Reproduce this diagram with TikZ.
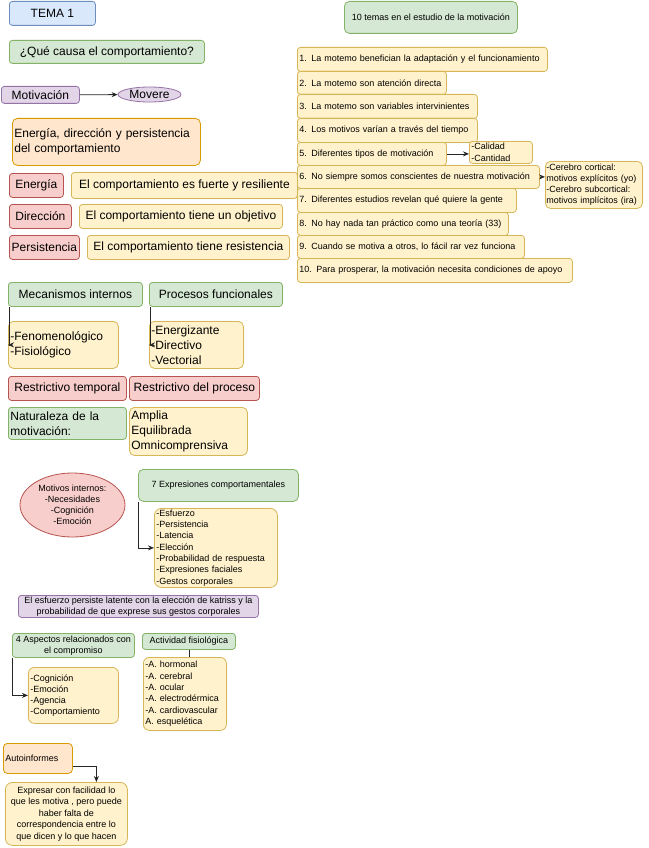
\documentclass[tikz,border=0pt]{standalone}
\usepackage{fontspec}
\setmainfont{Liberation Sans}
\usetikzlibrary{arrows.meta,shapes.geometric}
\definecolor{bF}{HTML}{DAE8FC}\definecolor{bD}{HTML}{6C8EBF}
\definecolor{gF}{HTML}{D5E8D4}\definecolor{gD}{HTML}{82B366}
\definecolor{pF}{HTML}{E1D5E7}\definecolor{pD}{HTML}{9673A6}
\definecolor{oF}{HTML}{FFE6CC}\definecolor{oD}{HTML}{D79B00}
\definecolor{rF}{HTML}{F8CECC}\definecolor{rD}{HTML}{B85450}
\definecolor{yF}{HTML}{FFF2CC}\definecolor{yD}{HTML}{D6B656}
\newcommand\ftwelve{\fontsize{12}{15}\selectfont}
\newcommand\fnine{\fontsize{9}{11.3}\selectfont}
\begin{document}
\begin{tikzpicture}[x=1pt,y=-1pt,
  base/.style={draw, rounded corners=3pt, line width=0.8pt, inner sep=0pt, anchor=north west, font=\ftwelve, align=center},
  sb/.style={base, fill=bF, draw=bD},
  sg/.style={base, fill=gF, draw=gD},
  sp/.style={base, fill=pF, draw=pD},
  so/.style={base, fill=oF, draw=oD},
  sr/.style={base, fill=rF, draw=rD},
  sy/.style={base, fill=yF, draw=yD},
  sm/.style={font=\fnine},
  wh/.style 2 args={minimum width=#1pt, minimum height=#2pt},
  lt/.style={align=left, text width=#1pt, inner xsep=2pt},
  arr/.style={draw=black!85, line width=0.8pt, -{Stealth[length=6pt,width=5pt]}},
  ln/.style={draw=black!85, line width=0.8pt}]
\useasboundingbox (0,0) rectangle (648,848);
% top left
\node[sb, wh={86}{24}] (tema) at (9,1) {TEMA 1};
\node[sg, wh={195}{23}] (que) at (9,40) {¿Qué causa el comportamiento?};
\node[sp, wh={78}{17}] (motiv) at (1,86) {Motivación};
\node[ellipse, draw=pD, fill=pF, line width=0.8pt, inner sep=0pt, wh={63}{15}, font=\ftwelve] (movere) at (149.5,94.5) {Movere};
\node[so, wh={188}{47}, lt={184}, rounded corners=5pt] (edp) at (12,118) {Energía, dirección y persistencia\\del comportamiento};
\node[sr, wh={54}{24}] (energia) at (9,173) {Energía};
\node[sy, wh={226}{26}] (energia2) at (71,172) {El comportamiento es fuerte y resiliente};
\node[sr, wh={62}{24}] (direccion) at (9,204) {Dirección};
\node[sy, wh={203}{24}] (direccion2) at (79,204) {El comportamiento tiene un objetivo};
\node[sr, wh={70}{24}] (persist) at (9,235) {Persistencia};
\node[sy, wh={202}{24}] (persist2) at (87,235) {El comportamiento tiene resistencia};
% right column
\node[sg, sm, wh={173}{32}, rounded corners=5pt] (diez) at (344,1) {10 temas en el estudio de la motivación};
\node[sy, sm, wh={250}{24}, lt={246}] (t1) at (297,47) {1. La motemo benefician la adaptación y el funcionamiento};
\node[sy, sm, wh={149}{23}, lt={145}] (t2) at (297,71) {2. La motemo son atención directa};
\node[sy, sm, wh={180}{24}, lt={176}] (t3) at (297,94) {3. La motemo son variables intervinientes};
\node[sy, sm, wh={180}{24}, lt={176}] (t4) at (297,118) {4. Los motivos varían a través del tiempo};
\node[sy, sm, wh={149}{23}, lt={145}] (t5) at (297,142) {5. Diferentes tipos de motivación};
\node[sy, sm, wh={242}{23}, lt={238}] (t6) at (297,165) {6. No siempre somos conscientes de nuestra motivación};
\node[sy, sm, wh={219}{24}, lt={215}] (t7) at (297,188) {7. Diferentes estudios revelan qué quiere la gente};
\node[sy, sm, wh={211}{23}, lt={207}] (t8) at (297,212) {8. No hay nada tan práctico como una teoría (33)};
\node[sy, sm, wh={227}{23}, lt={223}] (t9) at (297,235) {9. Cuando se motiva a otros, lo fácil rar vez funciona};
\node[sy, sm, wh={275}{24}, lt={271}] (t10) at (297,258) {10. Para prosperar, la motivación necesita condiciones de apoyo};
\node[sy, sm, wh={63}{22}, lt={59}, font=\fontsize{9}{11.5}\selectfont] (cal) at (469,141) {-Calidad\\-Cantidad};
\node[sy, sm, wh={97}{47}, align=left, text width=95pt, inner xsep=1pt, rounded corners=5pt, font=\fontsize{9}{11}\selectfont] (cereb) at (545,161) {-Cerebro cortical:\\motivos explícitos (yo)\\-Cerebro subcortical:\\motivos implícitos (ira)};
\draw[arr] (t5.east) -- (t5.east -| cal.west);
\draw[arr] (t6.east) -- (t6.east -| cereb.west);
% middle left
\node[sg, wh={134}{24}] (meca) at (8,282) {Mecanismos internos};
\node[sg, wh={133}{24}] (proc) at (149,282) {Procesos funcionales};
\node[sy, wh={110}{47}, lt={106}, rounded corners=5pt] (feno) at (8,321) {-Fenomenológico\\-Fisiológico};
\node[sy, wh={94}{47}, lt={90}, rounded corners=5pt] (energ) at (149,321) {-Energizante\\-Directivo\\-Vectorial};
\node[sr, wh={118}{24}] (rtemp) at (8,376) {Restrictivo temporal};
\node[sr, wh={130}{24}] (rproc) at (129,376) {Restrictivo del proceso};
\node[sg, wh={118}{32}, lt={114}] (natur) at (8,407) {Naturaleza de la\\motivación:};
\node[sy, wh={118}{48}, lt={114}, rounded corners=5pt] (amplia) at (129,407) {Amplia\\Equilibrada\\Omnicomprensiva};
\draw[arr] ([xshift=1pt]meca.south west) |- (feno.west);
\draw[arr] ([xshift=1pt]proc.south west) |- (energ.west);
% expresiones
\node[ellipse, draw=rD, fill=rF, line width=0.8pt, inner sep=0pt, wh={105}{64}, align=center, font=\fontsize{9}{11}\selectfont] (motint) at (72.5,505) {Motivos internos:\\-Necesidades\\-Cognición\\-Emoción};
\node[sg, sm, wh={160}{32}, rounded corners=5pt] (expr7) at (138,469) {7 Expresiones comportamentales};
\node[sy, sm, wh={123}{79}, lt={119}, rounded corners=7pt] (esfu) at (154,508) {-Esfuerzo\\-Persistencia\\-Latencia\\-Elección\\-Probabilidad de respuesta\\-Expresiones faciales\\-Gestos corporales};
\draw[arr] (expr7.south west) |- (esfu.west);
\node[sp, sm, wh={240}{22}, font=\fontsize{9}{11}\selectfont] (esfuerzo) at (18,595) {El esfuerzo persiste latente con la elección de katriss y la\\probabilidad de que exprese sus gestos corporales};
\node[sg, sm, wh={122}{24}, font=\fontsize{9}{11}\selectfont] (asp4) at (12,633) {4 Aspectos relacionados con\\el compromiso};
\node[sy, sm, wh={90}{56}, lt={86}, rounded corners=6pt, font=\fontsize{9}{11}\selectfont] (cogn) at (28,667) {-Cognición\\-Emoción\\-Agencia\\-Comportamiento};
\draw[arr] (asp4.south west) |- (cogn.west);
\node[sg, sm, wh={93}{16}] (activ) at (142,633) {Actividad fisiológica};
\node[sy, sm, wh={83}{73}, lt={79}, rounded corners=6pt] (ahorm) at (143,657) {-A. hormonal\\-A. cerebral\\-A. ocular\\-A. electrodérmica\\-A. cardiovascular\\A. esquelética};
\draw[ln] (activ.south) -- (activ.south |- ahorm.north);
% autoinformes
\node[so, sm, wh={69}{30}, lt={65}, rounded corners=4pt] (auto) at (3,743) {Autoinformes};
\node[sy, sm, wh={122}{63}, rounded corners=7pt, font=\fontsize{9}{11.6}\selectfont] (expresar) at (5,782) {Expresar con facilidad lo\\que les motiva , pero puede\\haber falta de\\correspondencia entre lo\\que dicen y lo que hacen};
\draw[arr] ([yshift=-8pt]auto.east) -| ([xshift=30pt]expresar.north);
\draw[arr] (motiv) -- (movere);
\end{tikzpicture}
\end{document}
